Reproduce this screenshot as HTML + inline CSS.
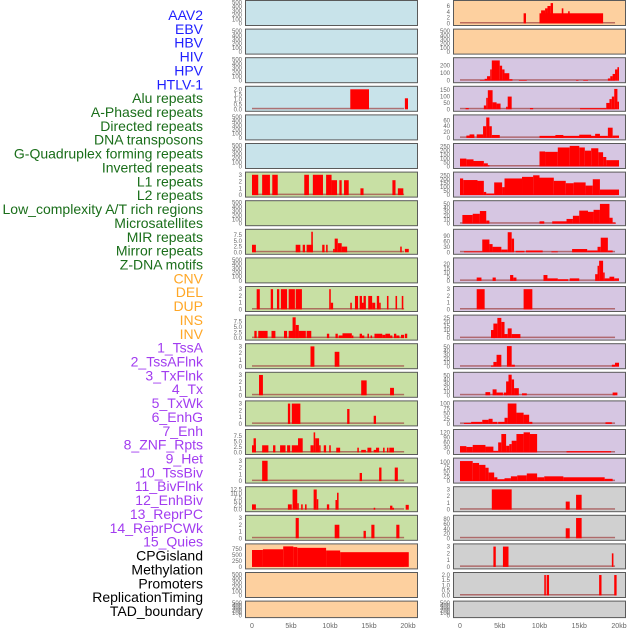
<!DOCTYPE html>
<html><head><meta charset="utf-8">
<style>
html,body{margin:0;padding:0;background:#fff;}
svg{display:block;}
.lab{font-family:"Liberation Sans",sans-serif;font-size:14px;}
.tk{font-family:"Liberation Sans",sans-serif;font-size:6px;fill:#666;}
.xt{font-family:"Liberation Sans",sans-serif;font-size:7px;fill:#666;}
</style></head>
<body>
<svg id="chart" width="630" height="630" viewBox="0 0 630 630" xmlns="http://www.w3.org/2000/svg">
<g id="labels"></g>
<g id="panels"></g>
<g id="xaxis"></g>
</svg>
<script>
const trackLabels = ["AAV2","EBV","HBV","HIV","HPV","HTLV-1","Alu repeats","A-Phased repeats","Directed repeats","DNA transposons","G-Quadruplex forming repeats","Inverted repeats","L1 repeats","L2 repeats","Low_complexity A/T rich regions","Microsatellites","MIR repeats","Mirror repeats","Z-DNA motifs","CNV","DEL","DUP","INS","INV","1_TssA","2_TssAFlnk","3_TxFlnk","4_Tx","5_TxWk","6_EnhG","7_Enh","8_ZNF_Rpts","9_Het","10_TssBiv","11_BivFlnk","12_EnhBiv","13_ReprPC","14_ReprPCWk","15_Quies","CPGisland","Methylation","Promoters","ReplicationTiming","TAD_boundary"];
const labelGroups = [0,0,0,0,0,0,1,1,1,1,1,1,1,1,1,1,1,1,1,2,2,2,2,2,3,3,3,3,3,3,3,3,3,3,3,3,3,3,3,4,4,4,4,4];
const groupColors = ["#1f1fff","#1a6e1a","#ffa726","#a23cf0","#000000"];
const xTickValues = [0,5,10,15,20];
const xTickLabels = ["0","5kb","10kb","15kb","20kb"];

// left column bars: [startKb, endKb, value]
const L0=[],L1=[],L2=[],L4=[],L5=[],L7=[],L9=[],L20=[],L21=[];
const L3=[[12.6,15.0,2],[19.6,20,1.1]];
const L6=[[0,0.8,3],[1.3,2.3,3],[2.6,3.3,3],[6.7,7.3,3],[7.8,9.1,3],[9.5,10.2,3],[10.2,10.9,2.2],[11.2,11.5,2.2],[11.8,12.4,2.2],[13.9,14.3,1],[18.0,18.4,2.2],[18.7,19.4,1]];
const L8=[[0,0.5,3.3],[5.6,6.2,3.3],[6.5,6.8,3.3],[7.0,7.8,3.3],[7.6,7.8,9],[9.0,9.3,3.3],[9.5,9.7,3.3],[10.4,10.6,1.5],[10.6,11.0,6],[11.0,11.5,4],[11.5,12.2,2.5],[19.0,19.2,2.5],[19.6,20.1,1.5]];
const L10=[[0.6,1.0,3],[2.4,2.7,3],[3.2,3.5,3],[3.7,4.5,3],[4.7,5.5,3],[5.6,6.4,3],[9.9,10.1,3],[10.1,10.4,1],[12.6,12.8,1],[13.2,13.6,2],[13.8,14.1,2],[14.1,14.3,1],[14.3,14.6,2],[14.9,15.4,2],[15.4,15.8,1],[16.0,16.3,2],[16.3,16.5,1],[17.3,17.5,2],[18.4,18.6,2],[19.2,19.4,2]];
const L11=[[0.3,0.6,3.3],[0.8,2.0,3.3],[2.5,3.0,3.3],[4.1,4.5,3.3],[4.7,5.5,3.3],[5.6,6.0,3.3],[5.2,5.6,9.5],[5.6,6.0,6],[6.0,6.9,3.3],[7.0,7.6,3.3],[9.6,9.9,2],[10.7,11.0,2],[11.1,11.6,1.2],[11.6,12.8,2.2],[12.8,13.0,1.2],[13.8,14.1,2],[14.1,14.4,1.2],[14.8,15.0,2],[15.2,15.4,1.2],[15.7,15.9,2],[15.9,16.7,2],[16.7,17.1,1.5],[17.1,17.7,2],[17.7,18.0,1.2],[18.2,18.5,2],[18.5,18.9,1.2],[19.1,19.5,1.5],[19.6,19.9,2]];
const L12=[[7.5,8.0,3],[10.6,11.2,2.2]];
const L13=[[0.9,1.4,3],[14.0,14.7,2.2],[17.7,18.2,1.1]];
const L14=[[4.6,4.9,3],[5.1,6.2,3],[12.2,12.5,2.2],[15.6,15.9,1.2]];
const L15=[[0,0.5,3.3],[0.2,0.5,6.5],[1.3,2.1,3.3],[2.7,3.0,3.3],[3.6,4.3,3.3],[4.5,4.9,3.3],[5.1,6.1,3.3],[5.9,6.5,6.5],[7.5,7.9,3.3],[7.9,8.1,9.2],[8.1,8.6,6.5],[8.6,8.8,3.3],[9.2,9.5,3.3],[9.9,10.1,3.3],[10.8,11.3,2.2],[13.5,13.7,2.2],[14.0,14.6,1.2],[14.8,15.3,2.2],[15.6,15.9,1.2],[15.9,16.3,2.2],[16.8,17.0,2.2],[17.3,17.5,2.2],[17.6,18.2,2.2]];
const L16=[[1.3,2.0,3],[13.8,14.1,1.2],[16.3,16.6,2],[18.3,18.7,2]];
const L17=[[0,0.5,3.3],[4.6,5.1,3.3],[5.2,5.8,12.5],[5.8,6.0,4],[6.3,6.5,3.3],[6.8,7.0,3.3],[7.9,8.3,12.5],[8.3,8.5,6.5],[9.6,9.9,3.3],[10.7,10.9,6],[10.9,11.1,10.5],[15.6,15.8,1.2],[17.7,18.0,2.5],[18.0,18.2,1.2],[19.7,20.1,3]];
const L18=[[5.6,6.0,3],[10.6,11.2,2],[14.3,14.6,1.1],[15.3,15.7,2],[18.5,18.9,2]];
const L19=[[0,1.4,700],[1.4,4.0,730],[4.0,5.3,850],[5.3,5.8,820],[5.8,9.5,790],[9.5,11.3,680],[11.3,20.1,610]];
const leftBars=[L0,L1,L2,L3,L4,L5,L6,L7,L8,L9,L10,L11,L12,L13,L14,L15,L16,L17,L18,L19,L20,L21];
const leftMax=[500,500,500,2.1,500,500,3.1,500,9.2,500,3.1,9.6,3.1,3.1,3.1,9.6,3.1,13,3.1,870,500,500];
const leftTicks=[[0,100,200,300,400,500],[0,100,200,300,400,500],[0,100,200,300,400,500],[0,0.5,1,1.5,2],[0,100,200,300,400,500],[0,100,200,300,400,500],[0,1,2,3],[0,100,200,300,400,500],[0,2.5,5,7.5],[0,100,200,300,400,500],[0,1,2,3],[0,2.5,5,7.5],[0,1,2,3],[0,1,2,3],[0,1,2,3],[0,2.5,5,7.5],[0,1,2,3],[0,2.5,5,7.5,10,12.5],[0,1,2,3],[0,250,500,750],[0,100,200,300,400,500],[0,100,200,300,400,500]];
const leftTickText=[null,null,null,["0.0","0.5","1.0","1.5","2.0"],null,null,null,null,["0.0","2.5","5.0","7.5"],null,null,["0.0","2.5","5.0","7.5"],null,null,null,["0.0","2.5","5.0","7.5"],null,["0.0","2.5","5.0","7.5","10.0","12.5"],null,null,null,null];

// right column bars
const R1=[],R21=[];
const R0=[[8.0,8.3,3.5],[10.0,18.0,3.5],[10.2,10.7,4.5],[10.7,11.0,5.2],[11.0,11.4,6],[11.4,11.7,7],[12.8,13.0,5.2],[13.6,13.8,4.2]];
const R2=[[2.5,3.1,8],[3.1,3.4,25],[3.4,3.8,60],[3.8,4.0,150],[4.0,5.0,270],[5.0,5.3,200],[5.3,5.6,150],[5.6,6.2,100],[6.2,6.6,20],[7.4,8.4,8],[14.6,14.9,8],[15.5,16.1,8],[18.6,18.9,30],[18.9,19.2,60],[19.2,19.5,90],[19.5,19.8,150],[19.8,20.0,180]];
const R3=[[0.7,1.1,10],[3.0,3.3,30],[3.3,3.5,90],[3.5,4.1,150],[4.1,4.6,55],[4.6,5.1,45],[5.8,6.0,20],[6.0,6.5,100],[8.8,9.2,10],[15.1,18.4,9],[18.4,18.8,50],[18.8,19.1,80],[19.1,19.4,100],[19.4,19.8,160],[19.8,20.0,60]];
const R4=[[0.8,1.8,8],[1.2,1.8,12],[2.1,2.9,12],[2.9,3.3,40],[3.3,3.7,70],[3.7,4.0,40],[4.0,5.0,10],[10.0,18.6,7],[12.0,13.0,10],[15.0,16.5,11],[17.0,17.6,14],[18.6,19.2,35],[19.2,20.0,8]];
const R5=[[0,0.8,100],[0.8,1.7,90],[1.7,3.0,70],[3.0,3.5,40],[3.5,3.7,15],[10.0,10.7,190],[10.7,12.3,185],[12.3,13.8,240],[13.8,15.0,260],[15.0,15.7,240],[15.7,16.5,200],[16.5,17.4,230],[17.4,18.0,180],[18.0,18.4,120],[18.4,20.0,80]];
const R6=[[0,0.4,210],[0.4,2.2,190],[2.2,3.0,180],[3.0,3.3,40],[3.3,4.3,20],[4.3,5.3,160],[5.3,5.6,100],[5.6,7.8,210],[7.8,9.2,230],[9.2,10.0,250],[10.0,11.8,220],[11.8,13.3,180],[13.3,14.3,150],[14.3,15.8,160],[15.8,16.7,120],[16.7,17.6,200],[17.6,20.0,70]];
const R7=[[0.3,1.6,22],[1.6,2.5,25],[2.5,3.3,32],[3.3,3.7,8],[10.0,10.6,6],[11.6,13.4,6],[13.4,14.2,12],[14.2,15.0,20],[15.0,16.1,33],[16.1,16.8,30],[16.8,17.6,35],[17.6,18.8,50],[18.8,19.2,15],[19.2,19.6,3]];
const R8=[[0.5,2.8,5],[2.8,3.7,70],[3.7,4.1,45],[4.1,5.2,30],[5.2,6.0,15],[6.0,6.5,110],[6.5,6.8,75],[7.0,8.1,8],[8.3,10.4,10],[11.5,12.3,5],[14.1,16.0,18],[16.0,17.3,10],[17.3,17.7,30],[17.7,18.6,80],[18.6,19.2,10]];
const R9=[[2.1,2.7,4],[4.1,4.5,4],[6.3,6.7,7],[6.7,7.1,4],[10.5,11.0,7],[11.0,12.3,3],[12.3,13.6,2],[13.8,15.0,3],[17.0,17.3,8],[17.3,17.5,18],[17.5,18.0,24],[18.0,18.2,10],[18.2,18.8,3],[18.8,19.4,5],[19.4,20.0,3]];
const R10=[[2.1,3.1,3],[8.0,9.1,3]];
const R11=[[3.9,4.4,10],[4.2,4.7,18],[4.7,5.2,25],[5.2,5.6,20],[5.6,6.0,5],[6.0,6.5,12],[6.5,7.6,5]];
const R12=[[3.9,4.2,3],[4.2,4.6,12],[4.6,5.2,30],[5.9,6.5,52],[6.5,6.9,5],[19.1,19.5,5],[19.5,20.0,10]];
const R13=[[3.2,3.8,8],[4.1,4.6,15],[4.6,5.4,7],[5.5,5.9,7],[5.8,6.1,35],[6.1,6.5,52],[6.5,6.8,40],[6.8,7.4,18],[7.8,8.4,5],[19.2,19.8,7]];
const R14=[[0.5,1.4,5],[1.4,2.8,10],[2.8,3.6,20],[3.6,4.1,25],[4.1,4.7,10],[4.8,5.6,10],[5.6,6.0,30],[6.0,7.1,100],[7.1,8.0,55],[8.0,8.7,45],[8.7,9.1,10],[18.3,19.1,8]];
const R15=[[0,0.8,38],[0.8,1.6,33],[1.6,3.2,45],[3.2,4.2,35],[4.2,4.8,10],[4.8,5.2,60],[5.2,5.8,110],[5.8,6.2,40],[6.2,6.5,50],[6.5,7.1,70],[7.1,8.0,110],[8.0,8.8,120],[8.8,9.7,110],[13.4,19.0,8]];
const R16=[[0,1.6,105],[1.6,2.4,95],[2.4,3.2,85],[3.2,3.6,70],[3.6,4.3,45],[4.3,4.7,20],[4.7,5.6,10],[5.6,6.4,15],[6.4,7.2,25],[7.2,8.4,30],[8.4,9.7,40],[9.7,10.6,20],[10.6,13.0,25],[13.0,18.2,20],[18.2,19.2,12]];
const R17=[[4.0,6.5,3],[13.3,13.8,1.2],[14.6,15.3,2.2]];
const R18=[[13.3,13.8,42],[14.6,15.3,85]];
const R19=[[4.2,4.5,3],[5.4,6.1,3],[19.1,19.3,2]];
const R20=[[10.6,10.8,2],[10.9,11.2,2],[17.5,17.8,2],[19.4,19.7,2]];
const rightBars=[R0,R1,R2,R3,R4,R5,R6,R7,R8,R9,R10,R11,R12,R13,R14,R15,R16,R17,R18,R19,R20,R21];
const rightMax=[7.2,500,280,165,72,265,265,53,115,25,3.1,26,53,53,103,125,110,3.1,88,3.1,2.05,500];
const rightTicks=[[0,2,4,6],[0,100,200,300,400,500],[0,100,200],[0,50,100,150],[0,20,40,60],[0,50,100,150,200,250],[0,50,100,150,200,250],[0,10,20,30,40,50],[0,30,60,90],[0,5,10,15,20],[0,1,2,3],[0,5,10,15,20,25],[0,10,20,30,40,50],[0,10,20,30,40,50],[0,25,50,75,100],[0,30,60,90,120],[0,25,50,75,100],[0,1,2,3],[0,20,40,60,80],[0,1,2,3],[0,0.5,1,1.5,2],[0,100,200,300,400,500]];
const rightTickText=[null,null,null,null,null,null,null,null,null,null,null,null,null,null,null,null,null,null,null,null,["0.0","0.5","1.0","1.5","2.0"],null];

const leftBg=["#c8e3ea","#c8e3ea","#c8e3ea","#c8e3ea","#c8e3ea","#c8e3ea","#c8e0a4","#c8e0a4","#c8e0a4","#c8e0a4","#c8e0a4","#c8e0a4","#c8e0a4","#c8e0a4","#c8e0a4","#c8e0a4","#c8e0a4","#c8e0a4","#c8e0a4","#fdd09f","#fdd09f","#fdd09f"];
const rightBg=["#fdd09f","#fdd09f","#d6c6e2","#d6c6e2","#d6c6e2","#d6c6e2","#d6c6e2","#d6c6e2","#d6c6e2","#d6c6e2","#d6c6e2","#d6c6e2","#d6c6e2","#d6c6e2","#d6c6e2","#d6c6e2","#d6c6e2","#d0d0d0","#d0d0d0","#d0d0d0","#d0d0d0","#d0d0d0"];

const NS="http://www.w3.org/2000/svg";
function mk(tag,attrs,parent){const e=document.createElementNS(NS,tag);for(const k in attrs)e.setAttribute(k,attrs[k]);parent.appendChild(e);return e;}

// labels
const labG=document.getElementById('labels');
trackLabels.forEach((t,i)=>{
  const e=mk('text',{x:203,y:15+i*13.86+5,'text-anchor':'end',class:'lab',fill:groupColors[labelGroups[i]]},labG);
  
  
  e.textContent=t;
});

const cols=[
 {x0:245,x1:417,z:252,k:7.8,bars:leftBars,max:leftMax,ticks:leftTicks,tt:leftTickText,bg:leftBg,name:'left'},
 {x0:453,x1:625,z:460,k:7.95,bars:rightBars,max:rightMax,ticks:rightTicks,tt:rightTickText,bg:rightBg,name:'right'}
];
const pG=document.getElementById('panels');
cols.forEach(c=>{
  const xs=v=>c.z+v*c.k;
  c.bars.forEach((bars,i)=>{
    const top=i*28.6, h=(i===21)?16.5:25;
    const g=mk('g',{},pG);
    
    
    const r=mk('rect',{x:c.x0+0.5,y:top+0.5,width:c.x1-c.x0,height:h,fill:c.bg[i],stroke:'#5a5a5a','stroke-width':1},g);
    
    
    const yb=top+h-1.5, yt=top+2.5;
    const ys=v=>yb-(v/c.max[i])*(yb-yt);
    c.ticks[i].forEach((tv,j)=>{
      const txt=mk('text',{x:c.x0-3,y:ys(tv)+2,'text-anchor':'end',class:'tk'},g);
      
      
      txt.textContent=c.tt[i]?c.tt[i][j]:String(tv);
    });
    if(bars.length){
      const bl=mk('rect',{x:xs(0),y:yb-1.5,width:xs(19.5)-xs(0),height:1.5,fill:'#a04040',opacity:0.7},g);
      
      
    }
    bars.forEach(b=>{
      const x=xs(b[0]), w=Math.max(1,xs(b[1])-x), y=ys(b[2]);
      const br=mk('rect',{x:x,y:y,width:w,height:yb-y,fill:'#ff0000'},g);
      
      
    });
  });
  const xa=document.getElementById('xaxis');
  xTickValues.forEach((v,j)=>{
    const t=mk('text',{x:xs(v),y:628,'text-anchor':'middle',class:'xt'},xa);
    
    
    t.textContent=xTickLabels[j];
  });
});
</script>
</body></html>
